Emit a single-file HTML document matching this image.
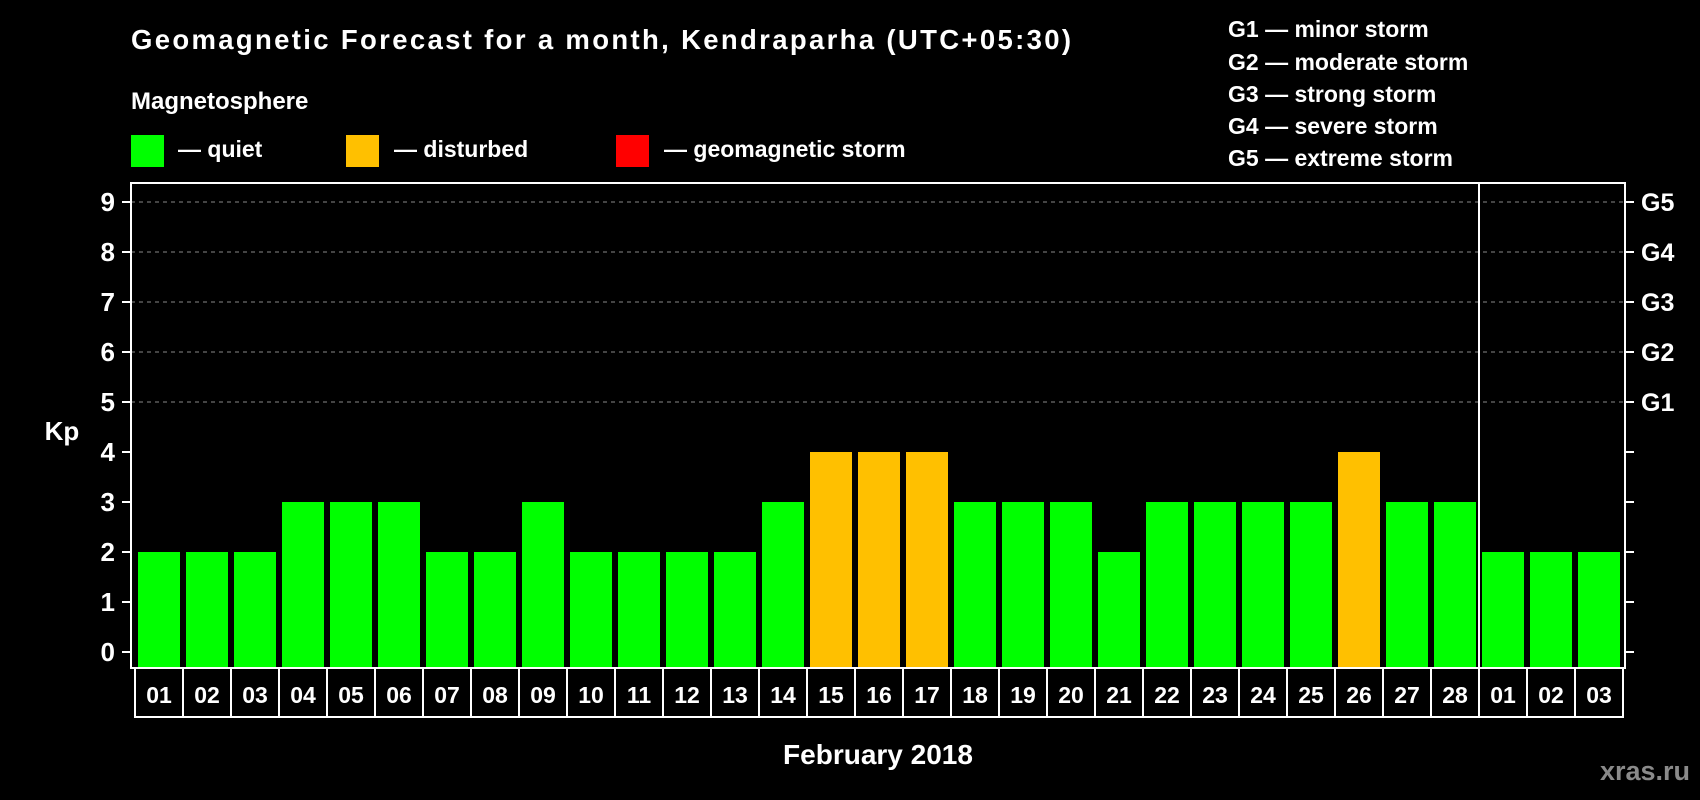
<!DOCTYPE html>
<html><head><meta charset="utf-8"><style>
html,body{margin:0;padding:0;background:#000;}
svg{display:block;font-family:"Liberation Sans",Arial,sans-serif;font-weight:bold;}
</style></head><body>
<svg id="chart" width="1700" height="800" viewBox="0 0 1700 800">
<rect x="0" y="0" width="1700" height="800" fill="#000"/>
<text x="131" y="49" fill="#fff" font-size="27.5" textLength="940">Geomagnetic Forecast for a month, Kendraparha (UTC+05:30)</text>
<text x="131" y="109" fill="#fff" font-size="24">Magnetosphere</text>
<g>
<rect x="131" y="135" width="33" height="32" fill="#00ff00"/>
<text x="178" y="157" fill="#fff" font-size="23">— quiet</text></g>
<g>
<rect x="346" y="135" width="33" height="32" fill="#ffc000"/>
<text x="394" y="157" fill="#fff" font-size="23">— disturbed</text></g>
<g>
<rect x="616" y="135" width="33" height="32" fill="#ff0000"/>
<text x="664" y="157" fill="#fff" font-size="23">— geomagnetic storm</text></g>
<g font-size="23" fill="#fff">
<text x="1228" y="37">G1 — minor storm</text>
<text x="1228" y="70">G2 — moderate storm</text>
<text x="1228" y="102">G3 — strong storm</text>
<text x="1228" y="134">G4 — severe storm</text>
<text x="1228" y="166">G5 — extreme storm</text>
</g>
<text x="62" y="440" fill="#fff" font-size="26" text-anchor="middle">Kp</text>
<text x="878" y="764" fill="#fff" font-size="28" text-anchor="middle">February 2018</text>
<text x="1690" y="780" fill="#8a8a8a" font-size="27" text-anchor="end">xras.ru</text>
<g id="plot"></g>
</svg>
<script>
const categories = ["01","02","03","04","05","06","07","08","09","10","11","12","13","14","15","16","17","18","19","20","21","22","23","24","25","26","27","28","01","02","03"];
const kpValues = [2,2,2,3,3,3,2,2,3,2,2,2,2,3,4,4,4,3,3,3,2,3,3,3,3,4,3,3,2,2,2];
const yTicks = [0,1,2,3,4,5,6,7,8,9];
const gLabels = ["G1","G2","G3","G4","G5"];
const gLevels = [5,6,7,8,9];
const monthSplitIndex = 28;

const NS = "http://www.w3.org/2000/svg";
const plot = document.getElementById("plot");
const L = 131, R = 1625, T = 183, B = 668;
const x0 = 135, step = 48, barW = 42;
function xPos(i){ return x0 + i*step; }
function yPos(v){ return 652 - v*50; }
function mk(tag, attrs, parent){ const e=document.createElementNS(NS,tag); for(const k in attrs) e.setAttribute(k,attrs[k]); (parent||plot).appendChild(e); return e; }

// gridlines
gLevels.forEach((v)=>{
  const g = mk("line",{x1:L,x2:R,y1:yPos(v),y2:yPos(v),stroke:"#888","stroke-width":1,"stroke-dasharray":"4,4"});
  
  
});
// bars
kpValues.forEach((v,i)=>{
  const col = v>=5 ? "#ff0000" : (v>=4 ? "#ffc000" : "#00ff00");
  const b = mk("rect",{x:xPos(i)+3,y:yPos(v),width:barW,height:B-yPos(v),fill:col});
  
  
});
// frame
const fr = mk("rect",{x:L,y:T,width:R-L,height:B-T,fill:"none",stroke:"#fff","stroke-width":2});


const dv = mk("line",{x1:xPos(monthSplitIndex),x2:xPos(monthSplitIndex),y1:T,y2:B,stroke:"#fff","stroke-width":2});


// y ticks
yTicks.forEach((v)=>{
  const t = mk("line",{x1:L-9,x2:L,y1:yPos(v),y2:yPos(v),stroke:"#fff","stroke-width":2});
  
  
  const t2 = mk("line",{x1:R,x2:R+9,y1:yPos(v),y2:yPos(v),stroke:"#fff","stroke-width":2});
  
  
  const lb = mk("text",{x:115,y:yPos(v)+9,fill:"#fff","font-size":26,"text-anchor":"end"});
  lb.textContent = v;
  
  
});
gLabels.forEach((g,i)=>{
  const lb = mk("text",{x:1641,y:yPos(gLevels[i])+9,fill:"#fff","font-size":25});
  lb.textContent = g;
  
  
});
// x category cells
const cellBox = mk("rect",{x:x0,y:B,width:categories.length*step,height:49,fill:"none",stroke:"#fff","stroke-width":2});


categories.forEach((c,i)=>{
  if(i>0){
    const d = mk("line",{x1:xPos(i),x2:xPos(i),y1:B,y2:B+49,stroke:"#fff","stroke-width":2});
    
    
  }
  const lb = mk("text",{x:xPos(i)+step/2,y:B+35,fill:"#fff","font-size":23,"text-anchor":"middle"});
  lb.textContent = c;
  
  
});
</script>
</body></html>
